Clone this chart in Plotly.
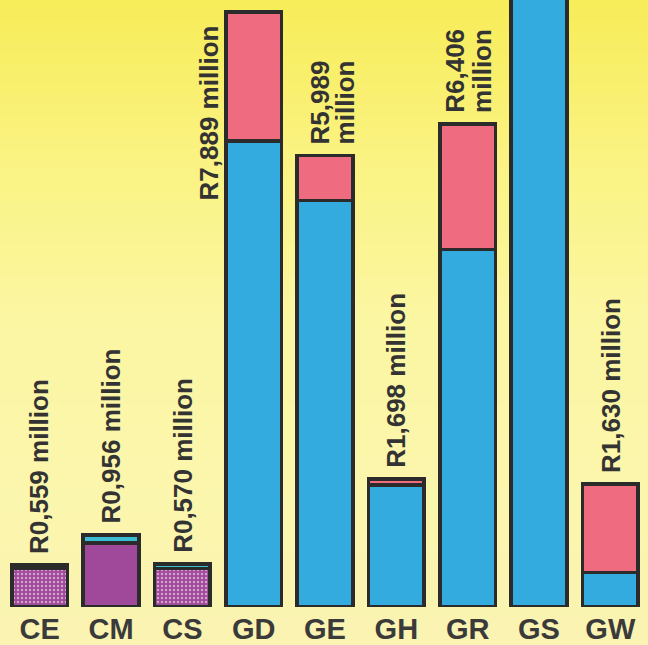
import plotly.graph_objects as go

# Budget allocation per department (R million)
categories = ["CE", "CM", "CS", "GD", "GE", "GH", "GR", "GS", "GW"]
totals = [0.559, 0.956, 0.570, 7.889, 5.989, 1.698, 6.406, 9.2, 1.630]
lower_part = [0.52, 0.85, 0.51, 6.18, 5.39, 1.62, 4.74, 9.2, 0.46]
labels = ["R0,559 million", "R0,956 million", "R0,570 million",
          "R7,889 million", "R5,989<br>million", "R1,698 million",
          "R6,406<br>million", "", "R1,630 million"]

upper_part = [round(t - l, 3) for t, l in zip(totals, lower_part)]

BLUE = "#33abdf"
PINK = "#ef6b80"
PURPLE = "#a0489a"
CYAN = "#3cbcd2"
EDGE = "#2b2b2b"
TEXT = "#333333"
FONT = "Liberation Sans, Arial, sans-serif"

lower_colors = [PURPLE, PURPLE, PURPLE] + [BLUE] * 6
upper_colors = ["#e6eccc", CYAN, CYAN] + [PINK] * 6
lower_patterns = [".", "", ".", "", "", "", "", "", ""]

fig = go.Figure()
fig.add_trace(go.Bar(
    x=categories, y=lower_part, width=0.78,
    marker=dict(color=lower_colors, line=dict(color=EDGE, width=3.5),
                pattern=dict(shape=lower_patterns, fgcolor="#d6c48c",
                             size=4, solidity=0.3, fillmode="overlay")),
    hoverinfo="skip",
))
fig.add_trace(go.Bar(
    x=categories, y=upper_part, width=0.78,
    marker=dict(color=upper_colors, line=dict(color=EDGE, width=3.5)),
    hoverinfo="skip",
))

# Value labels, set vertically above (or beside) each bar.
# Two-line labels are placed line by line so the lines sit close together.
line_x_offsets = {"GD": [-0.62], "GE": [-0.07, 0.28], "GR": [-0.18, 0.2]}
annotations = []
for i, (cat, tot, lab) in enumerate(zip(categories, totals, labels)):
    if not lab:
        continue
    if cat == "GD":
        y_pos, shift = tot * 0.68, 0
    else:
        y_pos, shift = tot, 9
    lines = lab.split("<br>")
    offsets = line_x_offsets.get(cat, [0.0] * len(lines))
    for line, dx in zip(lines, offsets):
        annotations.append(dict(
            x=i + dx, y=y_pos, xref="x", yref="y",
            text=line, textangle=-90, showarrow=False,
            xanchor="center", yanchor="bottom", yshift=shift,
            font=dict(family=FONT, size=26, color=TEXT, weight="bold"),
        ))

# Soft yellow background fading from the top
stops = [(0.0, (247, 236, 88)), (0.25, (250, 243, 130)), (0.5, (251, 246, 162)),
         (0.75, (251, 246, 172)), (1.0, (250, 243, 178))]


def shade(t):
    for (t0, c0), (t1, c1) in zip(stops[:-1], stops[1:]):
        if t0 <= t <= t1:
            f = (t - t0) / (t1 - t0)
            return "rgb(%d,%d,%d)" % tuple(round(a + (b - a) * f) for a, b in zip(c0, c1))
    return "rgb(%d,%d,%d)" % stops[-1][1]


H, B = 645, 33
n = 60
shapes = []
for k in range(n):
    top_px = H * k / n
    bot_px = H * (k + 1) / n
    y1 = (H - B - top_px) / (H - B)
    y0 = (H - B - bot_px) / (H - B)
    shapes.append(dict(type="rect", xref="paper", yref="paper", x0=-0.02, x1=1.02,
                       y0=y0 - 0.002, y1=y1 + 0.002, fillcolor=shade((k + 0.5) / n),
                       line=dict(width=0), layer="below"))

fig.update_layout(
    width=648, height=645,
    margin=dict(l=4, r=2, t=0, b=B),
    barmode="stack", bargap=0.22, showlegend=False,
    paper_bgcolor="rgb(250,243,178)", plot_bgcolor="rgba(0,0,0,0)",
    shapes=shapes, annotations=annotations,
    xaxis=dict(showgrid=False, zeroline=False, showline=False, ticks="",
               tickfont=dict(family=FONT, size=29, color="#3a3a3a", weight="bold"),
               ticklabelstandoff=2),
    yaxis=dict(range=[0, 8.05], visible=False, showgrid=False, zeroline=False),
)

fig.write_html("out.html")
